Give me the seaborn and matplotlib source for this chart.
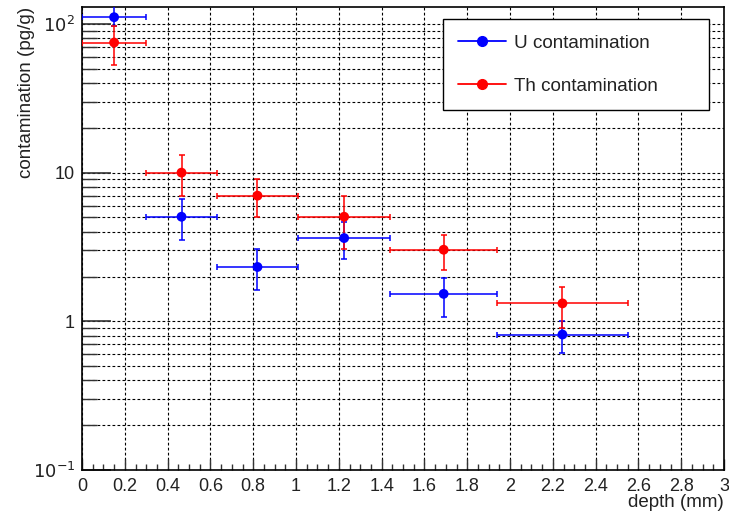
import numpy as np
import pandas as pd
import seaborn as sns
import matplotlib
matplotlib.use("Agg")
import matplotlib.pyplot as plt
from matplotlib.lines import Line2D
from matplotlib.ticker import LogLocator, FuncFormatter, MultipleLocator, NullFormatter

# ---- data ----
depth = [0.15, 0.465, 0.82, 1.225, 1.69, 2.245]
depth_err = [0.15, 0.165, 0.19, 0.215, 0.25, 0.305]

u_val = [111, 5.05, 2.32, 3.63, 1.53, 0.815]
u_err_lo = [14, 1.55, 0.69, 1.01, 0.46, 0.205]
u_err_hi = [25, 1.55, 0.74, 1.01, 0.43, 0.185]

th_val = [75, 10.0, 7.0, 5.05, 3.03, 1.32]
th_err_lo = [22, 3.0, 2.0, 2.0, 0.83, 0.42]
th_err_hi = [22, 3.1, 2.0, 1.95, 0.77, 0.37]

labels = ["U contamination", "Th contamination"]
colors = ["#0000ff", "#ff0000"]

df = pd.DataFrame({
    "depth": depth * 2,
    "value": u_val + th_val,
    "series": [labels[0]] * len(depth) + [labels[1]] * len(depth),
})

sns.set_theme(style="white")
plt.rcParams["font.family"] = ["Liberation Sans", "DejaVu Sans"]

fig = plt.figure(figsize=(7.29, 5.13), dpi=100)
ax = fig.add_axes([82 / 729, 1 - 470 / 513, (724 - 82) / 729, (470 - 7) / 513])

ax.set_yscale("log")
ax.set_xlim(0, 3)
ax.set_ylim(0.1, 130)

# grid
ax.xaxis.set_major_locator(MultipleLocator(0.2))
ax.xaxis.set_minor_locator(MultipleLocator(0.05))
ax.yaxis.set_major_locator(LogLocator(base=10, numticks=10))
ax.yaxis.set_minor_locator(LogLocator(base=10, subs=np.arange(2, 10), numticks=20))
ax.yaxis.set_minor_formatter(NullFormatter())

gstyle = dict(color="black", linestyle=(0, (2.5, 2.0)), linewidth=0.8)
ax.grid(True, which="major", axis="x", **gstyle)
ax.grid(True, which="both", axis="y", **gstyle)
ax.set_axisbelow(True)

# error bars
for vals, lo, hi, c in [(u_val, u_err_lo, u_err_hi, colors[0]),
                        (th_val, th_err_lo, th_err_hi, colors[1])]:
    ax.errorbar(depth, vals, xerr=depth_err, yerr=[lo, hi], fmt="none",
                ecolor=c, elinewidth=1.3, capsize=2.5, capthick=1.3, zorder=3, alpha=0.85)

sns.scatterplot(data=df, x="depth", y="value", hue="series", palette=colors,
                s=50, edgecolor="none", legend=False, ax=ax, zorder=4)

def yfmt(v, pos):
    if abs(v - 1) < 1e-9:
        return "1"
    if abs(v - 10) < 1e-9:
        return "10"
    e = int(round(np.log10(v)))
    return r"$10^{%d}$" % e

ax.yaxis.set_major_formatter(FuncFormatter(yfmt))
ax.xaxis.set_major_formatter(FuncFormatter(lambda v, p: ("%g" % round(v, 2))))

ax.tick_params(axis="x", which="major", direction="in", length=8, width=1, labelsize=13, pad=6)
ax.tick_params(axis="x", which="minor", direction="in", length=4, width=1)
ax.tick_params(axis="y", which="major", direction="in", length=21, width=1.2, labelsize=13, pad=5)
ax.tick_params(axis="y", which="minor", direction="in", length=11, width=1)
ax.tick_params(bottom=True, left=True, top=False, right=False, which="both", color="#333333")
for lab in ax.get_xticklabels() + ax.get_yticklabels():
    lab.set_color("#222222")

for s in ax.spines.values():
    s.set_color("black")
    s.set_linewidth(1.2)

ax.set_xlabel("depth (mm)", loc="right", fontsize=13.5, labelpad=-1, color="#222222")
ax.set_ylabel("contamination (pg/g)", loc="top", fontsize=13.6, labelpad=-2, color="#222222")

handles = [Line2D([0], [0], color=c, marker="o", markersize=7, linewidth=1.3) for c in colors]
leg = ax.legend(handles, labels, loc="upper left", mode="expand",
                bbox_to_anchor=(443 / 729, (513 - 106) / 513, 266 / 729, 87 / 513),
                bbox_transform=fig.transFigure,
                fontsize=13.6, frameon=True, fancybox=False, edgecolor="black",
                framealpha=1, borderpad=0.82, labelspacing=1.36, handlelength=2.5,
                handletextpad=0.45, borderaxespad=0, labelcolor="#222222")
leg.get_frame().set_linewidth(1.0)
leg.set_zorder(10)

fig.savefig("out.png", dpi=100, facecolor="white")
